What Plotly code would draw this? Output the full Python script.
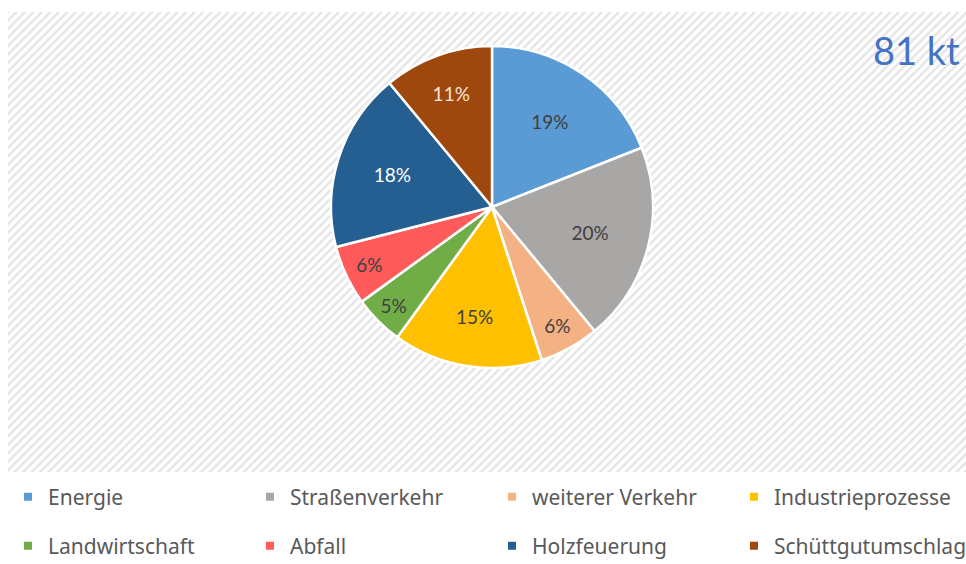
import plotly.graph_objects as go

categories = ["Energie", "Straßenverkehr", "weiterer Verkehr", "Industrieprozesse",
              "Landwirtschaft", "Abfall", "Holzfeuerung", "Schüttgutumschlag"]
shares = [19, 20, 6, 15, 5, 6, 18, 11]
colors = ["#5B9BD5", "#A9A7A6", "#F4B183", "#FFC000",
          "#70AD47", "#FF5B5B", "#255E91", "#9E480E"]
label_colors = ["#404040", "#404040", "#404040", "#404040",
                "#404040", "#404040", "#FFFFFF", "#FBE5D6"]
total_label = "81 kt"

W, H = 966, 564
fig = go.Figure()

# hatched plot background
fig.add_trace(go.Scatter(
    x=[0, 1, 1, 0, 0], y=[0, 0, 1, 1, 0], mode="none", fill="toself",
    fillcolor="rgba(0,0,0,0)",
    fillpattern=dict(shape="/", size=6, solidity=0.4, fgcolor="#CACACA", bgcolor="#FFFFFF"),
    hoverinfo="skip", showlegend=False))

cx, cy, r = 492, 207, 161
fig.add_trace(go.Pie(
    labels=categories, values=shares, sort=False, direction="clockwise", rotation=0,
    marker=dict(colors=colors, line=dict(color="#FFFFFF", width=2.5)),
    texttemplate="%{value}%", textposition="inside", insidetextorientation="horizontal",
    textfont=dict(family="Lato", size=19, color=label_colors),
    domain=dict(x=[(cx - r) / W, (cx + r) / W], y=[(H - cy - r) / H, (H - cy + r) / H]),
    showlegend=False, hoverinfo="label+percent"))

# legend entries
for i, (c, col) in enumerate(zip(categories, colors)):
    fig.add_trace(go.Scatter(
        x=[None], y=[None], mode="markers", name=c,
        marker=dict(symbol="square", size=8, color=col),
        legend="legend" if i < 4 else "legend2"))

legend_common = dict(orientation="h", entrywidth=197, entrywidthmode="pixels",
                     font=dict(family="Noto Sans", size=21, color="#595959"),
                     bgcolor="rgba(0,0,0,0)", xanchor="left", yanchor="middle",
                     itemsizing="trace", traceorder="normal")

fig.update_layout(
    width=W, height=H, margin=dict(l=0, r=0, t=0, b=0, autoexpand=False),
    paper_bgcolor="#FFFFFF", plot_bgcolor="rgba(0,0,0,0)",
    xaxis=dict(range=[0, 1], domain=[8 / W, 1], visible=False, fixedrange=True),
    yaxis=dict(range=[0, 1], domain=[(H - 472) / H, (H - 12) / H], visible=False, fixedrange=True),
    legend=dict(x=8 / W, y=(H - 497) / H, **legend_common),
    legend2=dict(x=8 / W, y=(H - 546) / H, **legend_common),
    annotations=[dict(text=total_label, x=962 / W, y=(H - 50) / H, xref="paper", yref="paper",
                      xanchor="right", yanchor="middle", showarrow=False,
                      font=dict(family="Lato", size=38, color="#4472C4"))],
)

fig.write_html("out.html")
